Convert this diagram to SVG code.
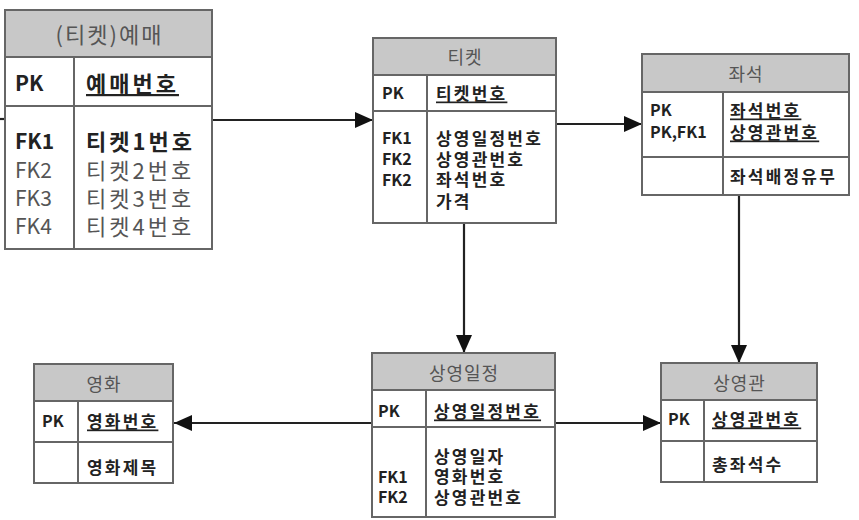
<svg xmlns="http://www.w3.org/2000/svg" width="859" height="520" viewBox="0 0 859 520">
<defs>
<marker id="arr" markerUnits="userSpaceOnUse" markerWidth="18" markerHeight="16" refX="18" refY="8" orient="auto">
<path d="M0,0 L18,8 L0,16 Z" fill="#111"/>
</marker>
<style>
.box{fill:#fff;stroke:#666;stroke-width:2}
.hd{fill:#c8c8c8;stroke:#666;stroke-width:2}
.ln{stroke:#666;stroke-width:2;fill:none}
.t{font-family:"Noto Sans CJK KR","Noto Sans",sans-serif;dominant-baseline:central}
.ttl{fill:#555;font-size:18px;text-anchor:middle;letter-spacing:1px}
.r{fill:#222;font-size:16px;font-weight:bold}
.k{font-size:17px;letter-spacing:2.2px}
.u{text-decoration:underline}
.big{font-size:21px}
.bk{font-size:22px;letter-spacing:3px}
.bt{font-size:22px;letter-spacing:2px}
.g{fill:#555;font-weight:normal}
.con{stroke:#222;stroke-width:2.2;fill:none}
</style>
</defs>
<g id="connectors">
<line class="con" x1="0" y1="119" x2="5" y2="119"/>
<line class="con" x1="213" y1="120" x2="373" y2="120" marker-end="url(#arr)"/>
<line class="con" x1="557" y1="124" x2="642" y2="124" marker-end="url(#arr)"/>
<line class="con" x1="464" y1="223" x2="464" y2="353" marker-end="url(#arr)"/>
<line class="con" x1="739" y1="195" x2="739" y2="363" marker-end="url(#arr)"/>
<line class="con" x1="372" y1="423" x2="174" y2="423" marker-end="url(#arr)"/>
<line class="con" x1="556" y1="423" x2="661" y2="423" marker-end="url(#arr)"/>
</g>
<g id="yemae">
<rect class="box" x="5" y="10" width="207" height="239"/>
<rect class="hd" x="5" y="10" width="207" height="47"/>
<line class="ln" x1="5" y1="106" x2="212" y2="106"/>
<line class="ln" x1="74" y1="57" x2="74" y2="249"/>
<text class="t ttl bt" x="109.5" y="33">(티켓)예매</text>
<text class="t r big" x="15" y="82">PK</text>
<text class="t r bk u" x="86" y="82">예매번호</text>
<text class="t r big" x="15" y="140">FK1</text>
<text class="t r bk" x="86" y="140">티켓1번호</text>
<text class="t r big g" x="15" y="169">FK2</text>
<text class="t r bk g" x="86" y="169">티켓2번호</text>
<text class="t r big g" x="15" y="197">FK3</text>
<text class="t r bk g" x="86" y="197">티켓3번호</text>
<text class="t r big g" x="15" y="225">FK4</text>
<text class="t r bk g" x="86" y="225">티켓4번호</text>
</g>
<g id="ticket">
<rect class="box" x="373" y="38" width="183" height="185"/>
<rect class="hd" x="373" y="38" width="183" height="37"/>
<line class="ln" x1="373" y1="111" x2="556" y2="111"/>
<line class="ln" x1="427" y1="75" x2="427" y2="223"/>
<text class="t ttl" x="465" y="56">티켓</text>
<text class="t r" x="382" y="92">PK</text>
<text class="t r k u" x="436" y="92">티켓번호</text>
<text class="t r" x="382" y="137">FK1</text>
<text class="t r k" x="436" y="137">상영일정번호</text>
<text class="t r" x="382" y="158">FK2</text>
<text class="t r k" x="436" y="158">상영관번호</text>
<text class="t r" x="382" y="178.5">FK2</text>
<text class="t r k" x="436" y="178.5">좌석번호</text>
<text class="t r k" x="436" y="200">가격</text>
</g>
<g id="seat">
<rect class="box" x="642" y="54" width="207" height="141"/>
<rect class="hd" x="642" y="54" width="207" height="38"/>
<line class="ln" x1="642" y1="157" x2="849" y2="157"/>
<line class="ln" x1="723" y1="92" x2="723" y2="195"/>
<text class="t ttl" x="746" y="73">좌석</text>
<text class="t r" x="650" y="109">PK</text>
<text class="t r k u" x="730" y="109">좌석번호</text>
<text class="t r" x="650" y="131">PK,FK1</text>
<text class="t r k u" x="730" y="131">상영관번호</text>
<text class="t r k" x="730" y="175">좌석배정유무</text>
</g>
<g id="theater">
<rect class="box" x="661" y="363" width="156" height="119"/>
<rect class="hd" x="661" y="363" width="156" height="37"/>
<line class="ln" x1="661" y1="441" x2="817" y2="441"/>
<line class="ln" x1="704" y1="400" x2="704" y2="482"/>
<text class="t ttl" x="739.5" y="382">상영관</text>
<text class="t r" x="668" y="418">PK</text>
<text class="t r k u" x="712" y="418">상영관번호</text>
<text class="t r k" x="712" y="463">총좌석수</text>
</g>
<g id="schedule">
<rect class="box" x="372" y="353" width="183" height="164"/>
<rect class="hd" x="372" y="353" width="183" height="37"/>
<line class="ln" x1="372" y1="427" x2="555" y2="427"/>
<line class="ln" x1="426" y1="390" x2="426" y2="517"/>
<text class="t ttl" x="464" y="372">상영일정</text>
<text class="t r" x="378" y="410">PK</text>
<text class="t r k u" x="434" y="410">상영일정번호</text>
<text class="t r k" x="434" y="455">상영일자</text>
<text class="t r" x="378" y="475.5">FK1</text>
<text class="t r k" x="434" y="475.5">영화번호</text>
<text class="t r" x="378" y="496">FK2</text>
<text class="t r k" x="434" y="496">상영관번호</text>
</g>
<g id="movie">
<rect class="box" x="34" y="364" width="139" height="119"/>
<rect class="hd" x="34" y="364" width="139" height="37"/>
<line class="ln" x1="34" y1="442" x2="173" y2="442"/>
<line class="ln" x1="78" y1="401" x2="78" y2="483"/>
<text class="t ttl" x="104" y="383">영화</text>
<text class="t r" x="42" y="420">PK</text>
<text class="t r k u" x="87" y="420">영화번호</text>
<text class="t r k" x="87" y="466">영화제목</text>
</g>
</svg>
